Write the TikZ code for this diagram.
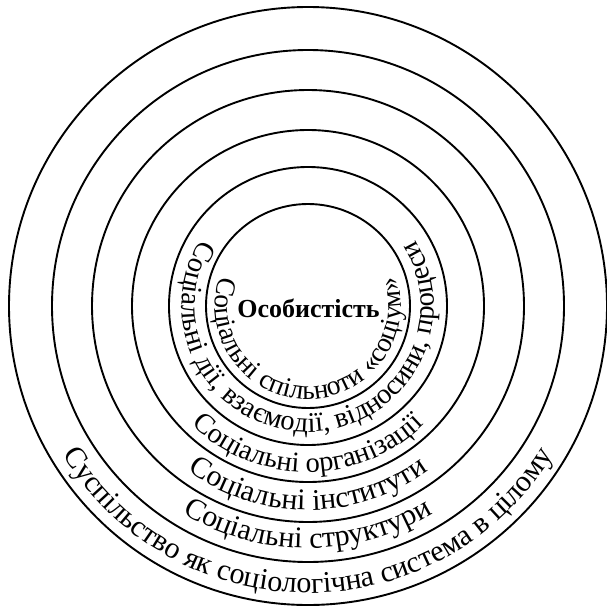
\documentclass[tikz,border=0pt]{standalone}
\usepackage{fontspec}
\setmainfont{Liberation Serif}
\usetikzlibrary{decorations.text}
\newcommand\fntA{\fontsize{30}{30}\selectfont}
\newcommand\fntB{\fontsize{28.5}{28.5}\selectfont}
\newcommand\fntC{\fontsize{27.5}{27.5}\selectfont}
\begin{document}
\begin{tikzpicture}[x=1pt,y=1pt]
\tikzset{ring/.style={draw,line width=1.9pt}}
\useasboundingbox (0,0) rectangle (607,-605);
\coordinate (c) at (308,-306);
% circles
\draw[ring] (c) circle[radius=299pt];
\draw[ring] (c) circle[radius=256pt];
\draw[ring] (c) circle[radius=216pt];
\draw[ring] (c) circle[radius=176pt];
\draw[ring] (c) circle[radius=139pt];
\draw[ring] (c) circle[radius=102pt];
% centre
\node[font=\fontsize{26}{26}\selectfont\bfseries, anchor=base, inner sep=0pt] (p) at (308.5,-317) {Особистість};
% ring texts
\path[decorate, decoration={text along path, text align=center,
  text={|\fntA|Суспільство як соціологічна система в цілому}}]
  (c) ++(180:287pt) arc[start angle=180, end angle=360, radius=287pt];
\path[decorate, decoration={text along path, text align=center,
  text={|\fntA|Соціальні структури}}]
  (c) ++(180:242pt) arc[start angle=180, end angle=360, radius=242pt];
\path[decorate, decoration={text along path, text align=center,
  text={|\fntA|Соціальні інститути}}]
  (c) ++(180:204pt) arc[start angle=180, end angle=360, radius=204pt];
\path[decorate, decoration={text along path, text align=center,
  text={|\fntB|Соціальні організації}}]
  (c) ++(180:166pt) arc[start angle=180, end angle=360, radius=166pt];
\path[decorate, decoration={text along path, text align=center,
  text={|\fntB|Соціальні дії, взаємодії, відносини, процеси}}]
  (c) ++(130:126pt) arc[start angle=130, end angle=410, radius=126pt];
\path[decorate, decoration={text along path, text align=center,
  text={|\fntC|Соціальні спільноти «соціум»}}]
  (c) ++(140:93pt) arc[start angle=140, end angle=400, radius=93pt];
\end{tikzpicture}
\end{document}
